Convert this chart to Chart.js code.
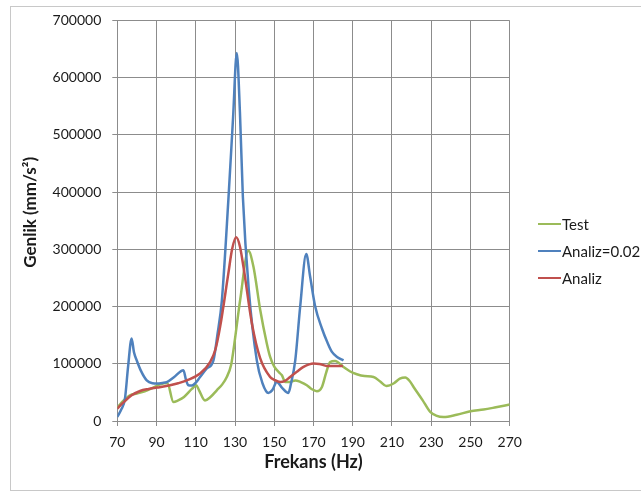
<!DOCTYPE html>
<html>
<head>
<meta charset="utf-8">
<script src="https://cdn.jsdelivr.net/npm/chart.js@4/dist/chart.umd.min.js"></script>
<style>
  html, body { margin: 0; padding: 0; background: #fff; overflow: hidden; }
  #wrap { position: relative; width: 641px; height: 493px; overflow: hidden; }
  #frame { position: absolute; left: 10px; top: 6px; width: 700px; height: 485px; border: 1px solid #c8c8c8; box-sizing: border-box; }
  #chart { position: absolute; left: 0; top: 0; }
  #legend { position: absolute; left: 538px; top: 210px; font-family: Lato, sans-serif; font-size: 15px; color: #1a1a1a; white-space: nowrap; }
  .item { height: 27px; display: flex; align-items: center; }
  .swatch { width: 23px; height: 0; border-top: 2px solid; margin-right: 1px; }
</style>
</head>
<body>
<div id="wrap">
  <div id="frame"></div>
  <canvas id="chart" width="641" height="493"></canvas>
  <div id="legend"></div>
</div>
<script>
// values
const testFreq = [70, 73, 76.5, 80, 84, 88, 91.8, 95.5, 98.6, 101, 104, 108, 110.2, 111.5, 114.7, 117.5, 120.7, 123.5, 125.8, 128, 129.2, 132.6, 136.8, 139.4, 142.8, 146.2, 147.9, 150, 153, 153.9, 155.6, 158, 160.7, 163.5, 166.6, 169, 171.7, 174.3, 176.5, 178.5, 181, 185.3, 188.5, 192.1, 196, 200.6, 204, 207.1, 211, 214, 216.8, 219, 221, 225.5, 229.5, 232.5, 236.3, 243, 250, 256.7, 263, 270];
const testAmp = [23400, 35000, 45000, 48000, 52000, 58000, 64000, 66500, 33000, 36000, 42000, 56000, 62500, 55000, 36000, 42000, 53700, 64000, 77000, 98000, 123700, 211000, 297500, 269500, 195000, 135500, 112000, 95000, 83000, 80000, 68000, 68000, 71000, 68000, 62500, 56000, 52000, 59500, 85000, 103000, 105000, 94500, 87000, 81700, 78500, 77000, 69000, 61300, 66000, 74000, 76000, 70000, 59500, 37000, 15800, 9500, 7000, 11000, 17000, 20000, 24000, 28700];

const an02Freq = [70, 72, 73.9, 75.5, 77.3, 78.5, 79.9, 82, 85, 88, 90.1, 93, 95.2, 99, 103.7, 105, 106.2, 108, 109.6, 112, 115.6, 119, 121, 123.3, 126.6, 129, 130.9, 132.5, 134, 137, 141.1, 144, 147, 149, 151.3, 154, 157.2, 158.5, 160.7, 163.2, 166.3, 168.3, 170.9, 174.3, 177, 179.4, 182, 185.3];
const an02Amp = [7000, 20000, 39000, 95000, 144000, 120000, 106000, 88000, 71000, 66000, 65500, 66500, 68000, 77000, 88700, 72000, 62500, 62000, 65500, 76000, 91700, 106000, 150000, 211000, 386000, 530000, 643000, 540000, 392000, 230000, 106000, 66000, 49000, 54000, 68000, 58000, 49000, 65000, 106000, 199500, 291700, 252000, 199500, 161700, 138000, 120700, 112000, 106000];

const anFreq = [70, 73, 77.3, 81.6, 86, 90.1, 96.9, 101, 105.4, 112.2, 117.3, 120, 122.4, 126.6, 128.5, 130.6, 132.5, 134.3, 138.6, 142.8, 147.9, 150, 153, 155.5, 158.1, 161.5, 164.9, 170, 173, 176.8, 181, 185];
const anAmp = [21700, 32000, 45000, 52500, 56000, 58400, 62500, 66000, 71000, 83000, 103000, 125000, 164500, 258000, 300000, 321000, 305000, 269500, 170500, 110000, 77000, 72000, 68000, 70000, 77000, 86000, 94500, 100400, 99500, 96300, 96000, 96300];

const seriesNames = ['Test', 'Analiz=0.02', 'Analiz'];
const seriesColors = ['#9BBB59', '#4F81BD', '#C0504D'];
const xTicks = [70, 270, 20];      // min, max, step
const yTicks = [0, 700000, 100000];

const gridColor = '#8c8c8c';
const tickFont = { family: 'Lato', size: 14 };

function pairs(xs, ys) {
    return xs.map((x, i) => ({ x: x, y: ys[i] }));
}

const datasets = [
    { label: seriesNames[0], data: pairs(testFreq, testAmp), borderColor: seriesColors[0], order: 3 },
    { label: seriesNames[1], data: pairs(an02Freq, an02Amp), borderColor: seriesColors[1], order: 2 },
    { label: seriesNames[2], data: pairs(anFreq, anAmp), borderColor: seriesColors[2], order: 1 }
].map(d => Object.assign(d, {
    borderWidth: 2.5,
    pointRadius: 0,
    fill: false,
    cubicInterpolationMode: 'monotone'
}));

const ctx = document.getElementById('chart').getContext('2d');
new Chart(ctx, {
    type: 'line',
    data: { datasets: datasets },
    options: {
        responsive: false,
        animation: false,
        layout: { padding: { top: 20.5, right: 131.3, left: 0, bottom: 0 } },
        plugins: {
            legend: { display: false },
            tooltip: { enabled: false }
        },
        scales: {
            x: {
                type: 'linear',
                min: xTicks[0],
                max: xTicks[1],
                ticks: { stepSize: xTicks[2], color: '#1a1a1a', font: tickFont, padding: 8, maxRotation: 0 },
                grid: { color: gridColor, tickColor: gridColor, tickLength: 5 },
                border: { color: gridColor },
                title: {
                    display: true,
                    text: 'Frekans (Hz)',
                    color: '#1a1a1a',
                    font: { family: 'Lato', size: 18, weight: 'bold' },
                    padding: { top: 0, bottom: 20 }
                },
                afterFit: s => { s.height = 72; }
            },
            y: {
                min: yTicks[0],
                max: yTicks[1],
                ticks: {
                    stepSize: yTicks[2],
                    color: '#1a1a1a',
                    font: tickFont,
                    padding: 11,
                    callback: v => String(v)
                },
                grid: { color: gridColor, tickColor: gridColor, tickLength: 5 },
                border: { color: gridColor },
                title: {
                    display: true,
                    // leading space nudges the title up a little, as in the original
                    text: '\u2003 Genlik (mm/s²)',
                    color: '#1a1a1a',
                    font: { family: 'Lato', size: 17, weight: 'bold' },
                    padding: { top: 20, bottom: 0 }
                },
                afterFit: s => { s.width = 117.3; }
            }
        }
    }
});

// legend drawn as html so it can run past the right edge like the original
const legend = document.getElementById('legend');
seriesNames.forEach((name, i) => {
    const row = document.createElement('div');
    row.className = 'item';
    const sw = document.createElement('span');
    sw.className = 'swatch';
    sw.style.borderColor = seriesColors[i];
    const txt = document.createElement('span');
    txt.textContent = name;
    row.appendChild(sw);
    row.appendChild(txt);
    legend.appendChild(row);
});
</script>
</body>
</html>
